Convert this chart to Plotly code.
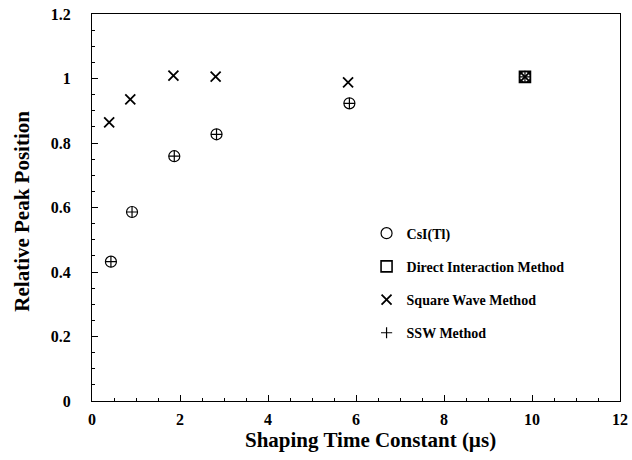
import plotly.graph_objects as go

# Data
csi_x = [0.43, 0.91, 1.87, 2.83, 5.85, 9.84]
csi_y = [0.432, 0.586, 0.759, 0.827, 0.923, 1.005]
ssw_x = [0.43, 0.91, 1.87, 2.83, 5.85, 9.84]
ssw_y = [0.432, 0.586, 0.759, 0.827, 0.923, 1.005]
sqw_x = [0.39, 0.87, 1.85, 2.81, 5.82, 9.84]
sqw_y = [0.864, 0.935, 1.009, 1.006, 0.988, 1.005]
dir_x = [9.84]
dir_y = [1.005]

x_ticks = [0, 2, 4, 6, 8, 10, 12]
y_ticks = [0, 0.2, 0.4, 0.6, 0.8, 1.0, 1.2]
y_tick_text = ["0", "0.2", "0.4", "0.6", "0.8", "1", "1.2"]

FONT = "Liberation Serif"

fig = go.Figure()
fig.add_trace(go.Scatter(x=csi_x, y=csi_y, mode="markers", name="CsI(Tl)",
                         legendgroup="a",
                         marker=dict(symbol="circle-open", size=11, color="black",
                                     line=dict(width=1.2, color="black"))))
fig.add_trace(go.Scatter(x=dir_x, y=dir_y, mode="markers", name="Direct Interaction Method",
                         legendgroup="b",
                         marker=dict(symbol="square-open", size=11, color="black",
                                     line=dict(width=1.6, color="black"))))
fig.add_trace(go.Scatter(x=sqw_x, y=sqw_y, mode="markers", name="Square Wave Method",
                         legendgroup="c",
                         marker=dict(symbol="x-thin-open", size=10, color="black",
                                     line=dict(width=1.8, color="black"))))
fig.add_trace(go.Scatter(x=ssw_x, y=ssw_y, mode="markers", name="SSW Method",
                         legendgroup="d",
                         marker=dict(symbol="cross-thin-open", size=8, color="black",
                                     line=dict(width=1.2, color="black"))))

fig.update_layout(
    width=632, height=460,
    margin=dict(l=92, r=12, t=14, b=59, autoexpand=False),
    paper_bgcolor="white", plot_bgcolor="white",
    font=dict(family=FONT, color="black", size=15),
    showlegend=True,
    legend=dict(x=0.52, y=0.474, xanchor="left", yanchor="top",
                bgcolor="rgba(0,0,0,0)", tracegroupgap=12,
                font=dict(family=FONT, size=14, color="black", weight="bold"),
                itemwidth=30),
    xaxis=dict(range=[0, 12], tickvals=x_ticks, ticks="inside", ticklen=6,
               tickwidth=1, tickcolor="black", automargin=False,
               minor=dict(dtick=0.5, ticks="inside", ticklen=3, tickcolor="black"),
               showline=True, linecolor="black", linewidth=1, mirror=True,
               showgrid=False, zeroline=False,
               tickfont=dict(family=FONT, size=16, color="black", weight="bold"),
               ticklabelstandoff=4),
    yaxis=dict(range=[0, 1.2], tickvals=y_ticks, ticktext=y_tick_text,
               ticks="inside", ticklen=6, tickwidth=1, tickcolor="black", automargin=False,
               minor=dict(dtick=0.05, ticks="inside", ticklen=3, tickcolor="black"),
               showline=True, linecolor="black", linewidth=1, mirror=True,
               showgrid=False, zeroline=False,
               tickfont=dict(family=FONT, size=16, color="black", weight="bold"),
               ticklabelstandoff=17),
)

fig.add_annotation(text="Shaping Time Constant (\u00b5s)", xref="paper", yref="paper",
                   x=0.527, y=-0.1, xanchor="center", yanchor="middle", showarrow=False,
                   font=dict(family=FONT, size=21, color="black", weight="bold"))
fig.add_annotation(text="Relative Peak Position", xref="paper", yref="paper",
                   x=-0.132, y=0.49, xanchor="center", yanchor="middle", showarrow=False,
                   textangle=-90,
                   font=dict(family=FONT, size=21, color="black", weight="bold"))

fig.write_html("out.html", config={"displayModeBar": False},
               post_script="document.body.style.margin='0';document.body.style.overflow='hidden';")
